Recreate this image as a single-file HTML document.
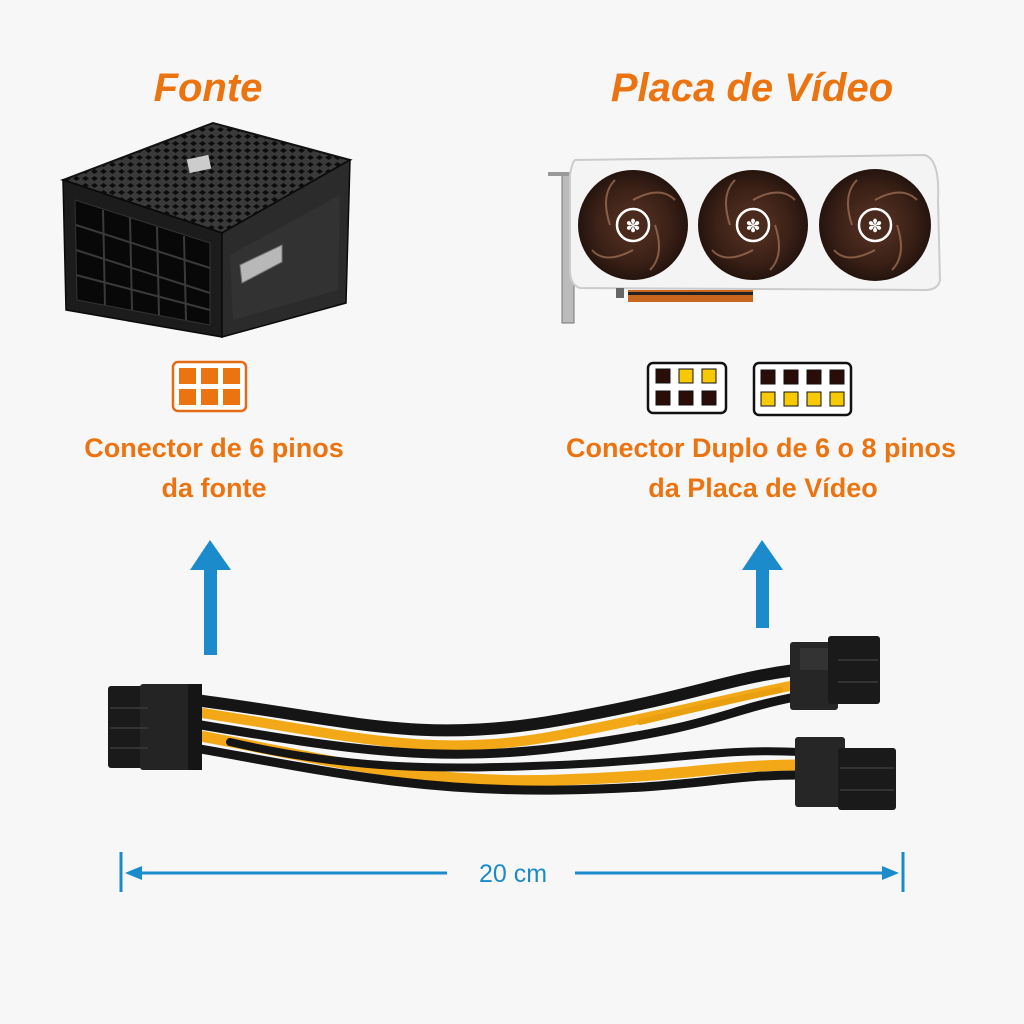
<!DOCTYPE html>
<html><head><meta charset="utf-8"><style>
html,body{margin:0;padding:0;background:#f7f7f7;}
svg{display:block;}
</style></head><body>
<svg width="1024" height="1024" viewBox="0 0 1024 1024" xmlns="http://www.w3.org/2000/svg" font-family="Liberation Sans, sans-serif">
<defs>
<pattern id="mesh" width="9" height="7" patternUnits="userSpaceOnUse">
<rect width="9" height="7" fill="#3a3a3a"/>
<polygon points="4.5,1 8,3.5 4.5,6 1,3.5" fill="#0c0c0c"/>
</pattern>
<radialGradient id="fan" cx="50%" cy="50%" r="50%">
<stop offset="0" stop-color="#5a3424"/><stop offset="0.7" stop-color="#3a2016"/><stop offset="1" stop-color="#24140e"/>
</radialGradient>
</defs>
<rect width="1024" height="1024" fill="#f7f7f7"/>

<!-- Titles -->
<text x="208" y="101" text-anchor="middle" font-size="40" font-weight="bold" font-style="italic" fill="#ec7410">Fonte</text>
<text x="752" y="101" text-anchor="middle" font-size="40" font-weight="bold" font-style="italic" fill="#ec7410">Placa de Vídeo</text>

<!-- PSU -->
<polygon points="63,180 213,123 350,160 222,233" fill="url(#mesh)" stroke="#111" stroke-width="2"/>
<polygon points="63,180 222,233 222,337 66,310" fill="#1c1c1c" stroke="#0a0a0a" stroke-width="1.5"/>
<polygon points="222,233 350,160 346,303 222,337" fill="#2b2b2b" stroke="#0a0a0a" stroke-width="1.5"/>
<polygon points="230,255 340,195 338,290 233,320" fill="#323232"/>
<g fill="#080808" stroke="#333" stroke-width="1">
<polygon points="75,200 210,243 210,325 77,300"/>
</g>
<g stroke="#3a3a3a" stroke-width="2">
<line x1="76" y1="225" x2="210" y2="268"/><line x1="76" y1="250" x2="210" y2="293"/><line x1="76" y1="275" x2="210" y2="310"/>
<line x1="103" y1="210" x2="105" y2="305"/><line x1="130" y1="218" x2="132" y2="310"/><line x1="157" y1="227" x2="159" y2="315"/><line x1="184" y1="236" x2="186" y2="320"/>
</g>
<polygon points="240,265 282,245 282,262 242,283" fill="#b8b8b8" stroke="#777"/>
<rect x="188" y="157" width="22" height="14" fill="#ccc" transform="rotate(-12 199 164)"/>

<!-- GPU -->
<rect x="562" y="175" width="12" height="148" fill="#bbb" stroke="#777"/>
<rect x="548" y="172" width="26" height="4" fill="#999"/>
<path d="M575 160 L925 155 Q940 160 938 200 L940 280 Q938 290 925 290 L580 288 Q570 285 570 270 L570 175 Q572 162 575 160Z" fill="#f4f4f4" stroke="#ccc" stroke-width="2"/>
<rect x="616" y="288" width="8" height="10" fill="#666"/>
<rect x="628" y="290" width="125" height="12" fill="#c8661e"/>
<rect x="628" y="292" width="125" height="3" fill="#222"/>
<g>
<circle cx="633" cy="225" r="55" fill="url(#fan)"/>
<circle cx="753" cy="225" r="55" fill="url(#fan)"/>
<circle cx="875" cy="225" r="56" fill="url(#fan)"/>
<g stroke="#a8765a" stroke-width="2" fill="none" opacity="0.7">
<path d="M633 200 Q660 185 675 200 M633 250 Q605 265 592 250 M610 225 Q600 195 615 180 M655 225 Q665 255 650 270"/>
<path d="M753 200 Q780 185 795 200 M753 250 Q725 265 712 250 M730 225 Q720 195 735 180 M775 225 Q785 255 770 270"/>
<path d="M875 200 Q902 185 917 200 M875 250 Q847 265 834 250 M852 225 Q842 195 857 180 M897 225 Q907 255 892 270"/>
</g>
<g fill="#4a2a1c" stroke="#fff" stroke-width="2.5">
<circle cx="633" cy="225" r="16"/><circle cx="753" cy="225" r="16"/><circle cx="875" cy="225" r="16"/>
</g>
<g fill="#fff" font-size="18" text-anchor="middle">
<text x="633" y="232">✽</text><text x="753" y="232">✽</text><text x="875" y="232">✽</text>
</g>
</g>

<!-- Orange connector icon -->
<rect x="173" y="362" width="73" height="49" rx="5" fill="#fff" stroke="#e46a14" stroke-width="2.5"/>
<g fill="#ec7410">
<rect x="179" y="368" width="17" height="16"/><rect x="201" y="368" width="17" height="16"/><rect x="223" y="368" width="17" height="16"/>
<rect x="179" y="389" width="17" height="16"/><rect x="201" y="389" width="17" height="16"/><rect x="223" y="389" width="17" height="16"/>
</g>

<!-- 6-pin icon -->
<rect x="648" y="363" width="78" height="50" rx="5" fill="#fff" stroke="#111" stroke-width="2.5"/>
<g stroke="#111" stroke-width="1">
<rect x="656" y="369" width="14" height="14" fill="#2a0c08"/><rect x="679" y="369" width="14" height="14" fill="#f7c900"/><rect x="702" y="369" width="14" height="14" fill="#f7c900"/>
<rect x="656" y="391" width="14" height="14" fill="#2a0c08"/><rect x="679" y="391" width="14" height="14" fill="#2a0c08"/><rect x="702" y="391" width="14" height="14" fill="#2a0c08"/>
</g>
<!-- 8-pin icon -->
<rect x="754" y="363" width="97" height="52" rx="5" fill="#fff" stroke="#111" stroke-width="2.5"/>
<g stroke="#111" stroke-width="1">
<rect x="761" y="370" width="14" height="14" fill="#2a0c08"/><rect x="784" y="370" width="14" height="14" fill="#2a0c08"/><rect x="807" y="370" width="14" height="14" fill="#2a0c08"/><rect x="830" y="370" width="14" height="14" fill="#2a0c08"/>
<rect x="761" y="392" width="14" height="14" fill="#f7c900"/><rect x="784" y="392" width="14" height="14" fill="#f7c900"/><rect x="807" y="392" width="14" height="14" fill="#f7c900"/><rect x="830" y="392" width="14" height="14" fill="#f7c900"/>
</g>

<!-- labels -->
<g font-size="27" font-weight="bold" fill="#ec7410" text-anchor="middle">
<text x="214" y="457">Conector de 6 pinos</text>
<text x="214" y="497">da fonte</text>
<text x="761" y="457">Conector Duplo de 6 o 8 pinos</text>
<text x="763" y="497">da Placa de Vídeo</text>
</g>

<!-- Up arrows -->
<g fill="#1b8bcc">
<rect x="204" y="568" width="13" height="87"/>
<polygon points="190,570 231,570 210,540"/>
<rect x="756" y="568" width="13" height="60"/>
<polygon points="742,570 783,570 762,540"/>
</g>

<!-- Cable wires -->
<g fill="none" stroke-linecap="round">
<path d="M195 700 C350 720 420 745 560 720 S720 680 795 670" stroke="#151515" stroke-width="12"/>
<path d="M195 712 C350 735 430 760 560 735 S720 700 795 685" stroke="#f3a818" stroke-width="10"/>
<path d="M195 724 C350 750 440 765 580 745 S720 712 795 697" stroke="#151515" stroke-width="9"/>
<path d="M195 735 C330 760 420 785 560 780 S720 765 800 765" stroke="#f3a818" stroke-width="11"/>
<path d="M195 748 C330 772 420 792 560 790 S720 775 800 775" stroke="#151515" stroke-width="9"/>
<path d="M230 742 C350 770 440 770 560 765 S720 748 800 752" stroke="#151515" stroke-width="8"/>
<path d="M780 690 C730 700 700 708 640 722" stroke="#e8a010" stroke-width="6"/>
</g>
<!-- Left connector -->
<rect x="108" y="686" width="40" height="82" rx="3" fill="#1a1a1a"/>
<rect x="140" y="684" width="62" height="86" rx="3" fill="#242424"/>
<rect x="188" y="684" width="14" height="86" fill="#151515"/>
<g stroke="#3a3a3a" stroke-width="1.5"><line x1="110" y1="708" x2="148" y2="708"/><line x1="110" y1="728" x2="148" y2="728"/><line x1="110" y1="748" x2="148" y2="748"/></g>
<!-- Top right connector -->
<rect x="790" y="642" width="48" height="68" rx="3" fill="#262626"/>
<rect x="828" y="636" width="52" height="68" rx="3" fill="#1a1a1a"/>
<rect x="800" y="648" width="28" height="22" fill="#333"/>
<g stroke="#3a3a3a" stroke-width="1.5"><line x1="838" y1="660" x2="878" y2="660"/><line x1="838" y1="682" x2="878" y2="682"/></g>
<!-- Bottom right connector -->
<rect x="795" y="737" width="50" height="70" rx="3" fill="#262626"/>
<rect x="838" y="748" width="58" height="62" rx="3" fill="#1a1a1a"/>
<g stroke="#3a3a3a" stroke-width="1.5"><line x1="840" y1="768" x2="894" y2="768"/><line x1="840" y1="790" x2="894" y2="790"/></g>

<!-- Dimension -->
<g stroke="#1b8bcc" stroke-width="3" fill="#1b8bcc">
<line x1="121" y1="852" x2="121" y2="892"/>
<line x1="903" y1="852" x2="903" y2="892"/>
<line x1="130" y1="873" x2="447" y2="873"/>
<line x1="575" y1="873" x2="895" y2="873"/>
<polygon points="125,873 142,866 142,880" stroke="none"/>
<polygon points="899,873 882,866 882,880" stroke="none"/>
</g>
<text x="513" y="882" text-anchor="middle" font-size="25" fill="#1b8bcc">20 cm</text>
</svg>
</body></html>
